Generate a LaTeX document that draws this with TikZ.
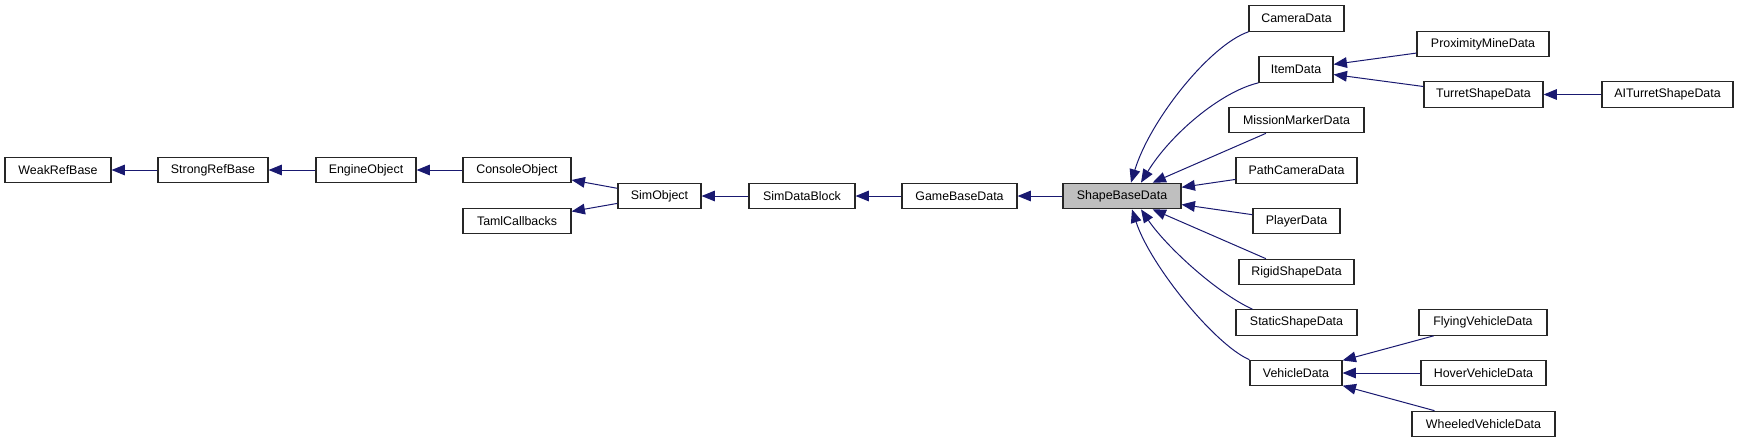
\documentclass[tikz,border=0pt]{standalone}
\usepackage{fontspec}
\setmainfont{Liberation Sans}
\usetikzlibrary{arrows.meta, calc}
\definecolor{edgeblue}{RGB}{25, 25, 112}
\definecolor{focusgray}{RGB}{191, 191, 191}
\tikzset{
  classbox/.style={draw=black!85, line width=0.9pt, fill=white, minimum height=19.1pt,
    inner sep=0pt, font=\fontsize{9.3}{10}\selectfont},
  boxw/.style={minimum width=#1*0.75pt},
  inherit/.style={draw=edgeblue, line width=0.75pt, -{Triangle[length=10pt, width=8pt]}}
}

\begin{document}
\begin{tikzpicture}[x=0.75pt, y=-0.75pt]
    \useasboundingbox (0,0) rectangle (1739,443);
    % base chain
    \node[classbox, boxw=106] (weakref) at (58,170) {WeakRefBase};
    \node[classbox, boxw=110] (strongref) at (213,170) {StrongRefBase};
    \node[classbox, boxw=100] (engineobj) at (366,170) {EngineObject};
    \node[classbox, boxw=108] (consoleobj) at (517,170) {ConsoleObject};
    \node[classbox, boxw=108] (tamlcb) at (517,221) {TamlCallbacks};
    \node[classbox, boxw=83] (simobj) at (659.5,196) {SimObject};
    \node[classbox, boxw=106] (simdatablock) at (802,196) {SimDataBlock};
    \node[classbox, boxw=115] (gamebase) at (959.5,196) {GameBaseData};
    \node[classbox, boxw=118, fill=focusgray] (shapebase) at (1122,196) {ShapeBaseData};
    % derived classes
    \node[classbox, boxw=95] (cameradata) at (1296.5,18.5) {CameraData};
    \node[classbox, boxw=74] (itemdata) at (1296,69.5) {ItemData};
    \node[classbox, boxw=135] (missionmarker) at (1296.5,120) {MissionMarkerData};
    \node[classbox, boxw=121] (pathcam) at (1296.5,170.5) {PathCameraData};
    \node[classbox, boxw=87] (playerdata) at (1296.5,221) {PlayerData};
    \node[classbox, boxw=115] (rigidshape) at (1296.5,272) {RigidShapeData};
    \node[classbox, boxw=121] (staticshape) at (1296.5,322.5) {StaticShapeData};
    \node[classbox, boxw=92] (vehicledata) at (1296,373) {VehicleData};
    \node[classbox, boxw=132] (proxmine) at (1483,44) {ProximityMineData};
    \node[classbox, boxw=119] (turretshape) at (1483.5,94.5) {TurretShapeData};
    \node[classbox, boxw=131] (aiturret) at (1667.5,94.5) {AITurretShapeData};
    \node[classbox, boxw=128] (flyingveh) at (1483,322.5) {FlyingVehicleData};
    \node[classbox, boxw=125] (hoverveh) at (1483.5,373) {HoverVehicleData};
    \node[classbox, boxw=143] (wheeledveh) at (1483.5,424) {WheeledVehicleData};
    % straight inheritance edges
    \foreach \derived/\baseclass in {strongref/weakref, engineobj/strongref, consoleobj/engineobj,
        simobj/consoleobj, simobj/tamlcb, simdatablock/simobj, gamebase/simdatablock,
        shapebase/gamebase, proxmine/itemdata, turretshape/itemdata, aiturret/turretshape,
        missionmarker/shapebase, pathcam/shapebase, playerdata/shapebase, rigidshape/shapebase,
        flyingveh/vehicledata, hoverveh/vehicledata, wheeledveh/vehicledata}
    {
        \draw[inherit] (\derived) -- (\baseclass);
    }
    % curved edges
    \draw[inherit] (cameradata.south west) .. controls (1210,45) and (1150,120) .. ($(shapebase.north)+(9,0)$);
    \draw[inherit] (itemdata.south west) .. controls (1220,92) and (1170,135) .. ($(shapebase.north)+(19,0)$);
    \draw[inherit] ($(staticshape.north west)+(17,0)$) .. controls (1215,292) and (1165,245) .. ($(shapebase.south)+(19,0)$);
    \draw[inherit] (vehicledata.north west) .. controls (1215,345) and (1150,265) .. ($(shapebase.south)+(10,0)$);
\end{tikzpicture}
\end{document}
